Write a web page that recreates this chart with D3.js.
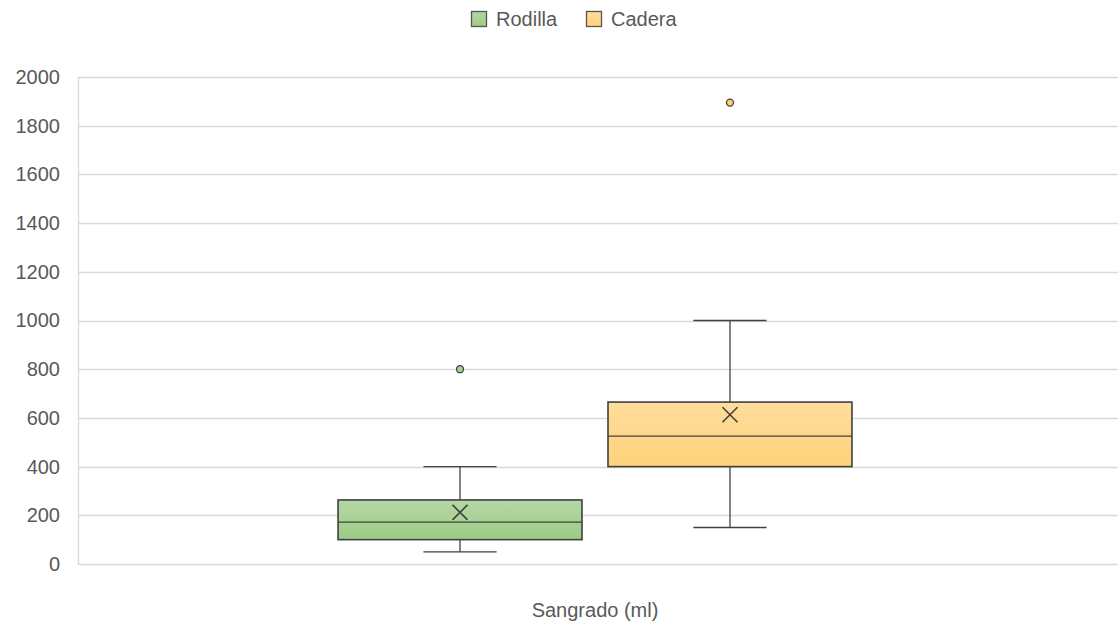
<!DOCTYPE html>
<html>
<head>
<meta charset="utf-8">
<script src="https://cdn.jsdelivr.net/npm/d3@7"></script>
<style>
  body { margin: 0; background: #fff; }
  svg { display: block; }
  text { font-family: "Liberation Sans", Arial, sans-serif; fill: #595959; }
</style>
</head>
<body>
<div id="chart"></div>
<script>
// ---- data ----
const category = ["Sangrado (ml)"];
const series = ["Rodilla", "Cadera"];
const whiskerLow = [50, 150];
const q1 = [100, 400];
const median = [172, 525];
const q3 = [263, 665];
const whiskerHigh = [400, 1000];
const means = [212, 613];
const outliers = [[800], [1895]];
const yTicks = [0, 200, 400, 600, 800, 1000, 1200, 1400, 1600, 1800, 2000];
const colorsTop = ["#b6d8a5", "#ffdd9c"];
const colorsBottom = ["#9dcb86", "#ffd27a"];
const pointColors = ["#a9d18e", "#ffd070"];

// ---- layout ----
const W = 1119, H = 626;
const plot = { left: 78, right: 1112, top: 77, bottom: 564 };

const svg = d3.select("#chart").append("svg").attr("width", W).attr("height", H);
const defs = svg.append("defs");
series.forEach((s, i) => {
  const g = defs.append("linearGradient").attr("id", "grad" + i)
    .attr("x1", 0).attr("y1", 0).attr("x2", 0).attr("y2", 1);
  g.append("stop").attr("offset", "0%").attr("stop-color", colorsTop[i]);
  g.append("stop").attr("offset", "100%").attr("stop-color", colorsBottom[i]);
});

const y = d3.scaleLinear().domain([0, 2000]).range([plot.bottom, plot.top]);
const x0 = d3.scaleBand().domain(category).range([plot.left, plot.right]).paddingInner(0).paddingOuter(0.506);
const x1 = d3.scaleBand().domain(series).range([0, x0.bandwidth()]).paddingInner(0.0963).paddingOuter(0);

// gridlines
svg.append("g").selectAll("line").data(yTicks).join("line")
  .attr("x1", plot.left).attr("x2", 1118)
  .attr("y1", d => Math.round(y(d)) + 0.5).attr("y2", d => Math.round(y(d)) + 0.5)
  .attr("stroke", "#d9d9d9").attr("stroke-width", 1.3);
// left axis line
svg.append("line").attr("x1", plot.left + 0.5).attr("x2", plot.left + 0.5)
  .attr("y1", plot.top).attr("y2", plot.bottom + 0.5)
  .attr("stroke", "#d9d9d9").attr("stroke-width", 1.3);

// y axis labels
const yAxis = d3.axisLeft(y).tickValues(yTicks).tickFormat(d3.format("d")).tickSize(0).tickPadding(18);
const ya = svg.append("g").attr("transform", `translate(${plot.left},0)`).call(yAxis);
ya.select(".domain").remove();
ya.selectAll("text").style("font-size", "20px").attr("fill", "#595959")
  .attr("font-family", "Liberation Sans, Arial, sans-serif");

// boxes
const bx = svg.append("g");
series.forEach((s, i) => {
  const left = x0(category[0]) + x1(s);
  const bw = x1.bandwidth();
  const cx = left + bw / 2;
  const capW = bw * 0.3;
  const g = bx.append("g");
  const stroke = "#404040";
  // whiskers
  g.append("line").attr("x1", cx).attr("x2", cx).attr("y1", y(whiskerHigh[i])).attr("y2", y(q3[i]))
    .attr("stroke", stroke).attr("stroke-width", 1.3);
  g.append("line").attr("x1", cx).attr("x2", cx).attr("y1", y(q1[i])).attr("y2", y(whiskerLow[i]))
    .attr("stroke", stroke).attr("stroke-width", 1.3);
  [whiskerHigh[i], whiskerLow[i]].forEach(v => {
    g.append("line").attr("x1", cx - capW / 2).attr("x2", cx + capW / 2).attr("y1", y(v)).attr("y2", y(v))
      .attr("stroke", stroke).attr("stroke-width", 1.3);
  });
  // box
  g.append("rect").attr("x", left).attr("y", y(q3[i])).attr("width", bw).attr("height", y(q1[i]) - y(q3[i]))
    .attr("fill", `url(#grad${i})`).attr("stroke", stroke).attr("stroke-width", 1.6);
  // median
  g.append("line").attr("x1", left).attr("x2", left + bw).attr("y1", y(median[i])).attr("y2", y(median[i]))
    .attr("stroke", stroke).attr("stroke-width", 1.3);
  // mean X
  const m = y(means[i]), r = 7.5;
  g.append("path").attr("d", `M${cx - r},${m - r}L${cx + r},${m + r}M${cx - r},${m + r}L${cx + r},${m - r}`)
    .attr("stroke", stroke).attr("stroke-width", 1.6).attr("fill", "none");
  // outliers
  g.selectAll("circle").data(outliers[i]).join("circle")
    .attr("cx", cx).attr("cy", d => y(d)).attr("r", 3.5)
    .attr("fill", pointColors[i]).attr("stroke", stroke).attr("stroke-width", 1.3);
});

// x axis label
svg.append("text").attr("x", x0(category[0]) + x0.bandwidth() / 2).attr("y", 617)
  .attr("text-anchor", "middle").style("font-size", "20px").text(category[0]);

// legend
const legendX = [471, 586];
const lg = svg.append("g");
series.forEach((s, i) => {
  lg.append("rect").attr("x", legendX[i] + 0.5).attr("y", 11.5).attr("width", 15).attr("height", 15)
    .attr("fill", `url(#grad${i})`).attr("stroke", "#555").attr("stroke-width", 1.3);
  lg.append("text").attr("x", legendX[i] + 25).attr("y", 26).style("font-size", "20px").text(s);
});
</script>
</body>
</html>
